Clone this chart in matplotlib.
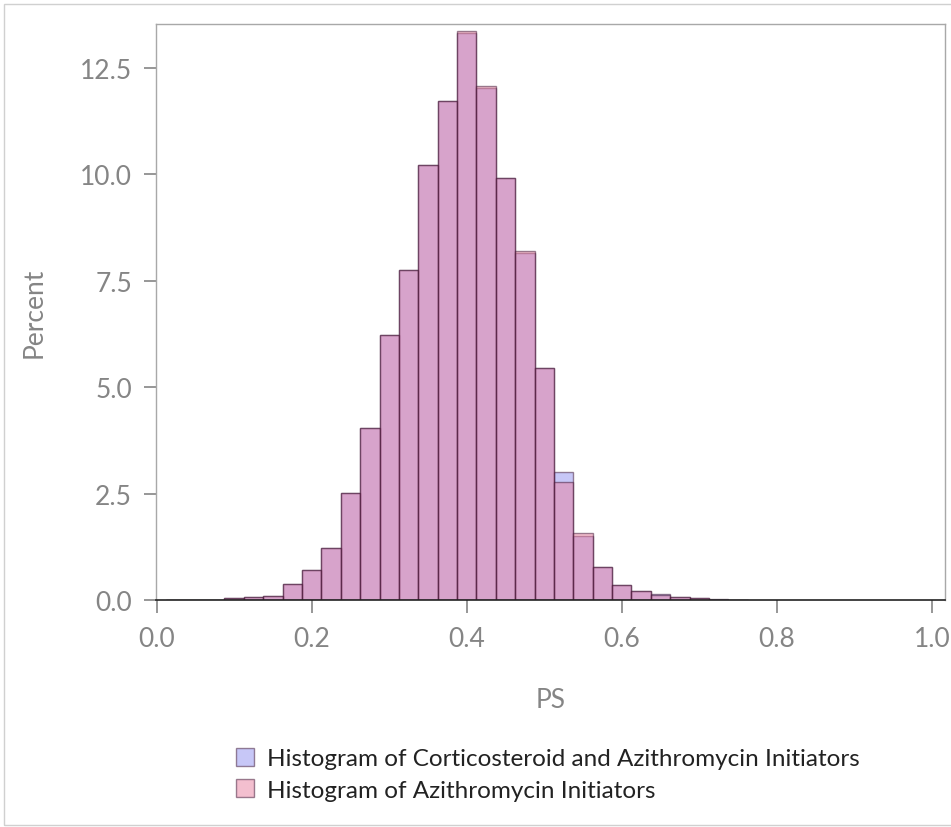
import matplotlib.pyplot as plt
from matplotlib.patches import Rectangle

plt.rcParams['font.family'] = ['Lato', 'DejaVu Sans']

# Bin midpoints (width 0.025) and percent per bin
midpoints = [0.025, 0.05, 0.075, 0.1, 0.125, 0.15, 0.175, 0.2, 0.225, 0.25,
             0.275, 0.3, 0.325, 0.35, 0.375, 0.4, 0.425, 0.45, 0.475, 0.5,
             0.525, 0.55, 0.575, 0.6, 0.625, 0.65, 0.675, 0.7, 0.725, 0.75]
cort_azi_pct = [0.01, 0.01, 0.0, 0.04, 0.07, 0.09, 0.38, 0.71, 1.23, 2.51,
                4.04, 6.22, 7.74, 10.21, 11.73, 13.33, 12.03, 9.91, 8.14, 5.44,
                3.0, 1.5, 0.77, 0.36, 0.2, 0.14, 0.08, 0.04, 0.02, 0.01]
azi_pct = [0.01, 0.01, 0.0, 0.04, 0.07, 0.09, 0.38, 0.71, 1.23, 2.51,
           4.04, 6.22, 7.74, 10.21, 11.73, 13.36, 12.08, 9.91, 8.2, 5.44,
           2.78, 1.57, 0.77, 0.36, 0.2, 0.12, 0.08, 0.04, 0.01, 0.01]
bin_width = 0.025

series_labels = ["Histogram of Corticosteroid and Azithromycin Initiators",
                 "Histogram of Azithromycin Initiators"]
x_ticks = [0.0, 0.2, 0.4, 0.6, 0.8, 1.0]
y_ticks = [0.0, 2.5, 5.0, 7.5, 10.0, 12.5]

fig = plt.figure(figsize=(9.51, 8.28), dpi=100)
ax = fig.add_axes([155.5 / 951, 1 - 601 / 828, (945 - 155.5) / 951, (601 - 25) / 828])

blue = '#9090f0'
red = '#e880a0'
edge = '#3a1030'

ax.bar(midpoints, cort_azi_pct, width=bin_width, color=blue, alpha=0.5,
       edgecolor=edge, linewidth=1.0, label=series_labels[0])
ax.bar(midpoints, azi_pct, width=bin_width, color=red, alpha=0.5,
       edgecolor=edge, linewidth=1.0, label=series_labels[1])

ax.set_xlim(-0.0015, 1.017)
ax.set_ylim(0, 13.53)
ax.set_xticks(x_ticks)
ax.set_yticks(y_ticks)
ax.set_xticklabels([f"{v:.1f}" for v in x_ticks])
ax.set_yticklabels([f"{v:.1f}" for v in y_ticks])

grey = '#858585'
ax.tick_params(axis='both', colors=grey, labelcolor=grey, labelsize=19,
               length=9, width=1.2, direction='out')
ax.tick_params(axis='x', pad=10)
ax.tick_params(axis='y', pad=8)
for side in ['top', 'right', 'left']:
    ax.spines[side].set_color('#a8a8a8')
    ax.spines[side].set_linewidth(1.0)
ax.spines['bottom'].set_color('#222222')
ax.spines['bottom'].set_linewidth(1.2)

ax.set_xlabel("PS", color=grey, fontsize=19, labelpad=26)
ax.set_ylabel("Percent", color=grey, fontsize=19, labelpad=24)

# legend below the plot
handles, labels = ax.get_legend_handles_labels()
leg = fig.legend(handles, labels, loc='upper left', bbox_to_anchor=(214 / 951, 1 - 727 / 828),
                 frameon=False, fontsize=17.5, handlelength=0.75, handleheight=0.75,
                 handletextpad=0.55, labelspacing=0.42, labelcolor='#222222')

# thin border around the figure
fig.patches.append(Rectangle((4 / 951, 2 / 828), 1.0, 1 - 7 / 828, transform=fig.transFigure,
                             fill=False, edgecolor='#d0d0d0', linewidth=1.0))

fig.savefig('out.png', dpi=100)
